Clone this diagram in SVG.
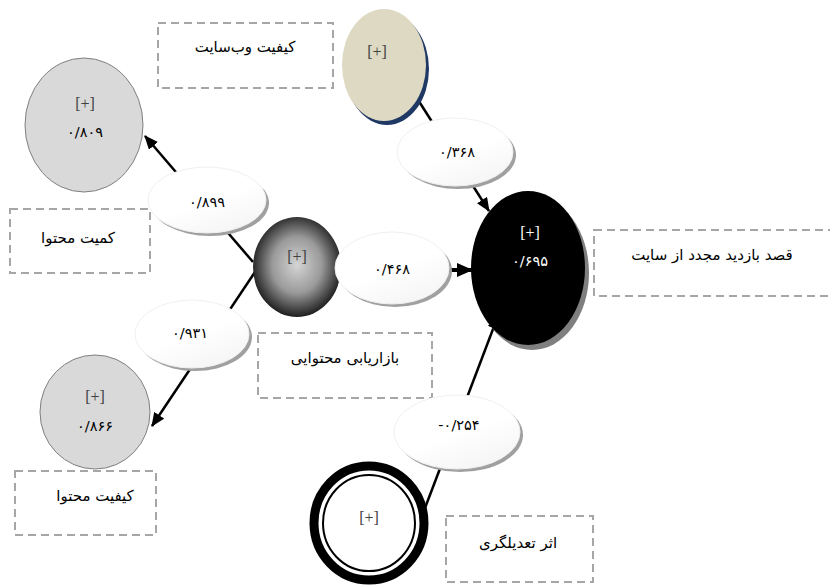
<svg xmlns="http://www.w3.org/2000/svg" width="830" height="586" viewBox="0 0 830 586">
<style>
.box{fill:none;stroke:#a6a6a6;stroke-width:2;stroke-dasharray:8,5}
.fa{font-family:"DejaVu Sans","Noto Sans",sans-serif;font-size:15px;fill:#000;text-anchor:middle;dominant-baseline:central}
.plus{font-family:"Liberation Serif",serif;font-size:16px;fill:#404040;text-anchor:middle;dominant-baseline:central}
.num{font-family:"DejaVu Sans","Noto Sans",sans-serif;font-size:14.5px;fill:#000;text-anchor:middle;dominant-baseline:central}
.edge{stroke:#000;stroke-width:2.5;fill:none}
.lbl{fill:url(#lblg);stroke:#f0f0f0;stroke-width:1}
.lblsh{fill:#a0a0a0}
.gray{fill:#d9d9d9;stroke:#808080;stroke-width:1}
</style>
<defs>
<marker id="arr" viewBox="0 0 14 12" refX="13" refY="6" markerWidth="14" markerHeight="12" markerUnits="userSpaceOnUse" orient="auto">
<path d="M0,0 L14,6 L0,12 z" fill="#000"/>
</marker>
<marker id="arrB" viewBox="0 0 16 14" refX="15" refY="7" markerWidth="16" markerHeight="14" markerUnits="userSpaceOnUse" orient="auto">
<path d="M0,0 L16,7 L0,14 z" fill="#000"/>
</marker>
<radialGradient id="sph" cx="0.5" cy="0.48" r="0.56">
<stop offset="0" stop-color="#d4d4d4"/>
<stop offset="0.5" stop-color="#9a9a9a"/>
<stop offset="1" stop-color="#0a0a0a"/>
</radialGradient>
<linearGradient id="lblg" x1="0" y1="0" x2="0.6" y2="1">
<stop offset="0" stop-color="#ffffff"/>
<stop offset="0.6" stop-color="#ffffff"/>
<stop offset="1" stop-color="#f6f6f6"/>
</linearGradient>
</defs>

<g id="connectors">
<line class="edge" x1="253" y1="262" x2="145" y2="136" marker-end="url(#arr)"/>
<line class="edge" x1="255" y1="272" x2="152" y2="426" marker-end="url(#arr)"/>
<line class="edge" x1="413" y1="92" x2="489" y2="211" marker-end="url(#arr)"/>
<line x1="328" y1="270" x2="472" y2="270" stroke="#000" stroke-width="4" marker-end="url(#arrB)"/>
<line class="edge" x1="425" y1="508" x2="498" y2="316" marker-end="url(#arr)"/>
</g>

<g id="node-website-quality">
<rect class="box" x="158" y="23" width="175" height="65"/>
<text class="fa" x="245" y="47">کیفیت وب‌سایت</text>
<ellipse cx="387" cy="69" rx="42" ry="56" fill="#1f3864"/>
<ellipse cx="384" cy="65" rx="42" ry="56" fill="#ddd9c3"/>
<text class="plus" x="377" y="51">[+]</text>
</g>

<g id="node-content-quantity">
<ellipse class="gray" cx="84" cy="125" rx="59" ry="67"/>
<text class="plus" x="85" y="103">[+]</text>
<text class="num" x="85" y="132">۰/۸۰۹</text>
<rect class="box" x="10" y="209" width="140" height="64"/>
<text class="fa" x="78" y="238">کمیت محتوا</text>
</g>

<g id="node-content-marketing">
<ellipse cx="297" cy="267" rx="44" ry="50" fill="url(#sph)"/>
<text class="plus" x="297" y="256">[+]</text>
<rect class="box" x="258" y="333" width="174" height="65"/>
<text class="fa" x="345" y="358">بازاریابی محتوایی</text>
</g>

<g id="node-revisit-intention">
<ellipse cx="532" cy="273" rx="57" ry="77" fill="#7f7f7f"/>
<ellipse cx="528" cy="268" rx="57" ry="77" fill="#000"/>
<text class="plus" x="530" y="232" style="fill:#fff">[+]</text>
<text class="num" x="530" y="261" style="fill:#fff">۰/۶۹۵</text>
<rect class="box" x="594" y="230" width="240" height="66"/>
<text class="fa" x="712" y="255">قصد بازدید مجدد از سایت</text>
</g>

<g id="node-content-quality">
<ellipse class="gray" cx="95" cy="412" rx="55" ry="57"/>
<text class="plus" x="95" y="396">[+]</text>
<text class="num" x="95" y="426">۰/۸۶۶</text>
<rect class="box" x="15" y="471" width="141" height="64"/>
<text class="fa" x="95" y="496">کیفیت محتوا</text>
</g>

<g id="node-moderator">
<ellipse cx="369" cy="523" rx="55" ry="57" fill="#fff" stroke="#000" stroke-width="9"/>
<ellipse cx="369" cy="523" rx="46" ry="48" fill="#fff" stroke="#000" stroke-width="2"/>
<text class="plus" x="369" y="517">[+]</text>
<rect class="box" x="446" y="516" width="147" height="66"/>
<text class="fa" x="518" y="543">اثر تعدیلگری</text>
</g>

<g id="connector-labels">
<ellipse class="lblsh" cx="210" cy="203" rx="59" ry="33"/>
<ellipse class="lbl" cx="207" cy="200" rx="59" ry="33"/>
<text class="num" x="207" y="202">۰/۸۹۹</text>

<ellipse class="lblsh" cx="195" cy="337" rx="57" ry="34"/>
<ellipse class="lbl" cx="192" cy="334" rx="57" ry="34"/>
<text class="num" x="190" y="333">۰/۹۳۱</text>

<ellipse class="lblsh" cx="395" cy="271" rx="57" ry="36"/>
<ellipse class="lbl" cx="392" cy="268" rx="57" ry="36"/>
<text class="num" x="392" y="269">۰/۴۶۸</text>

<ellipse class="lblsh" cx="458" cy="155" rx="58" ry="34"/>
<ellipse class="lbl" cx="455" cy="152" rx="58" ry="34"/>
<text class="num" x="457" y="152">۰/۳۶۸</text>

<ellipse class="lblsh" cx="460" cy="435" rx="63" ry="37"/>
<ellipse class="lbl" cx="457" cy="432" rx="63" ry="37"/>
<text class="num" x="459" y="425">-۰/۲۵۴</text>
</g>
</svg>
